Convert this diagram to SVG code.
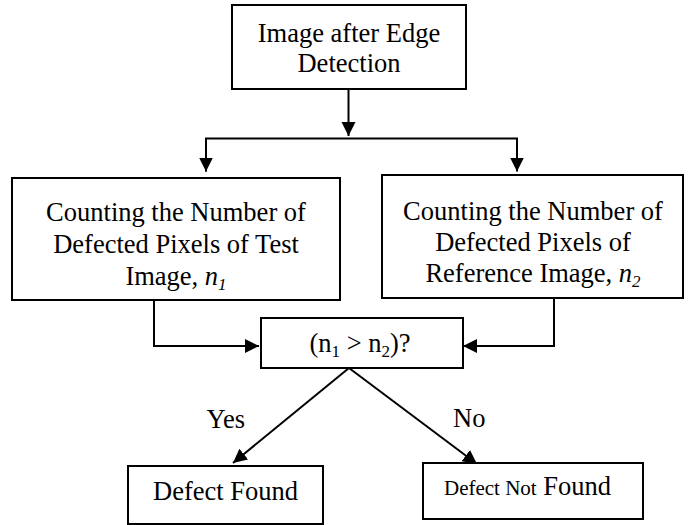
<svg xmlns="http://www.w3.org/2000/svg" width="691" height="525" viewBox="0 0 691 525">
<defs>
<marker id="ah" markerUnits="userSpaceOnUse" markerWidth="15" markerHeight="15" refX="14" refY="7" orient="auto" viewBox="0 0 15 15">
<path d="M0,0 L14,7 L0,14 z" fill="#000"/>
</marker>
</defs>
<rect width="691" height="525" fill="#fff"/>
<g id="connectors" fill="none" stroke="#000" stroke-width="2">
<line x1="348.5" y1="89" x2="348.5" y2="136" marker-end="url(#ah)"/>
<polyline points="206,171.5 206,138.5 517,138.5 517,171.5" marker-end="url(#ah)"/>
<line x1="206" y1="138.5" x2="206" y2="171.5" marker-end="url(#ah)"/>
<polyline points="154,300 154,346 259,346" marker-end="url(#ah)"/>
<polyline points="554,298 554,346 463,346" marker-end="url(#ah)"/>
<line x1="349" y1="368" x2="233" y2="463" marker-end="url(#ah)"/>
<line x1="349" y1="368" x2="477" y2="464" marker-end="url(#ah)"/>
</g>
<g id="labels" font-family="Liberation Serif" font-size="26.5" fill="#000">
<text x="206.5" y="428">Yes</text>
<text x="453" y="427">No</text>
</g>
<g id="start" font-family="Liberation Serif" font-size="26.5" text-anchor="middle">
<rect x="232" y="5" width="234" height="84" fill="#fff" stroke="#000" stroke-width="2"/>
<text x="349" y="42">Image after Edge</text>
<text x="349" y="72">Detection</text>
</g>
<g id="count-test" font-family="Liberation Serif" font-size="26.5" text-anchor="middle">
<rect x="12" y="178" width="328" height="122" fill="#fff" stroke="#000" stroke-width="2"/>
<text x="176" y="221">Counting the Number of</text>
<text x="176" y="253">Defected Pixels of Test</text>
<text x="176" y="285">Image, <tspan font-style="italic">n</tspan><tspan font-style="italic" font-size="17" dy="5">1</tspan></text>
</g>
<g id="count-ref" font-family="Liberation Serif" font-size="26.5" text-anchor="middle">
<rect x="382" y="175" width="301" height="123" fill="#fff" stroke="#000" stroke-width="2"/>
<text x="533" y="220">Counting the Number of</text>
<text x="533" y="251">Defected Pixels of</text>
<text x="533" y="282">Reference Image, <tspan font-style="italic">n</tspan><tspan font-style="italic" font-size="17" dy="5">2</tspan></text>
</g>
<g id="decision" font-family="Liberation Serif" font-size="26.5" text-anchor="middle">
<rect x="261" y="318" width="202" height="50" fill="#fff" stroke="#000" stroke-width="2"/>
<text x="360" y="352">(n<tspan font-size="17" dy="5">1</tspan><tspan dy="-5"> &gt; n</tspan><tspan font-size="17" dy="5">2</tspan><tspan dy="-5">)?</tspan></text>
</g>
<g id="found" font-family="Liberation Serif" font-size="26.5" text-anchor="middle">
<rect x="128" y="466" width="195" height="58" fill="#fff" stroke="#000" stroke-width="2"/>
<text x="225.5" y="500">Defect Found</text>
</g>
<g id="not-found" font-family="Liberation Serif" font-size="26.5">
<rect x="423" y="463" width="220" height="56" fill="#fff" stroke="#000" stroke-width="2"/>
<text x="444" y="494.5"><tspan font-size="21">Defect Not</tspan> Found</text>
</g>
</svg>
